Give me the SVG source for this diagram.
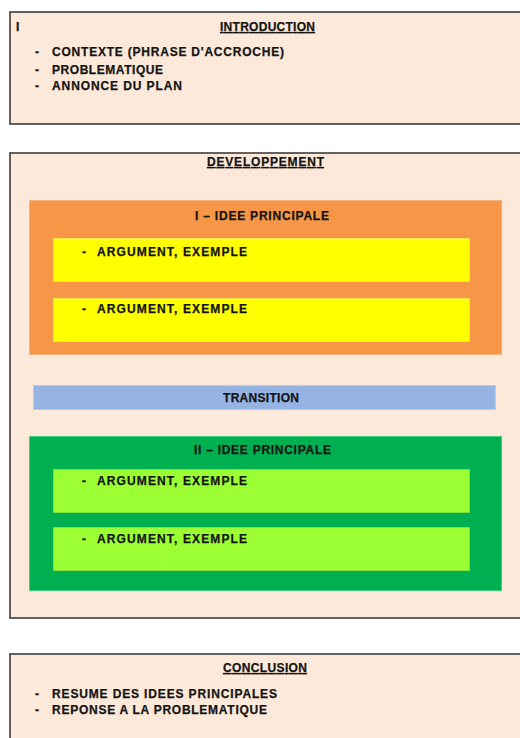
<svg xmlns="http://www.w3.org/2000/svg" width="520" height="738" viewBox="0 0 520 738">
  <style>
    text { font-family: "Liberation Sans", Arial, sans-serif; font-weight: bold; font-size: 12px; fill: #141414; stroke: #141414; stroke-width: 0.25; }
    .title { text-anchor: middle; text-decoration: underline; }
    .head { text-anchor: middle; }
    .section { fill: #fde9d9; stroke: #3c3c3c; stroke-width: 1.6; }
    .idea1 { fill: #f79646; stroke: #f9b07a; stroke-width: 1; }
    .idea2 { fill: #00b050; stroke: #3fd07f; stroke-width: 1; }
    .arg1 { fill: #ffff00; stroke: #f7e64a; stroke-width: 1; }
    .arg2 { fill: #9bff33; stroke: #7fe23a; stroke-width: 1; }
    .trans { fill: #95b3e3; stroke: #b7cbea; stroke-width: 1; }
  </style>

  <rect width="520" height="738" fill="#ffffff"/>

  <!-- Introduction -->
  <g id="introduction">
    <rect class="section" x="10" y="12" width="520" height="112"/>
    <text x="16" y="31">I</text>
    <text class="title" x="267.5" y="31" textLength="95" lengthAdjust="spacing">INTRODUCTION</text>
    <text x="35" y="56">-</text>
    <text x="52" y="56" textLength="232" lengthAdjust="spacing">CONTEXTE (PHRASE D'ACCROCHE)</text>
    <text x="35" y="74">-</text>
    <text x="52" y="74" textLength="111" lengthAdjust="spacing">PROBLEMATIQUE</text>
    <text x="35" y="90">-</text>
    <text x="52" y="90" textLength="130" lengthAdjust="spacing">ANNONCE DU PLAN</text>
  </g>

  <!-- Développement -->
  <g id="developpement">
    <rect class="section" x="10" y="153" width="520" height="465"/>
    <text class="title" x="265.5" y="166" textLength="117" lengthAdjust="spacing">DEVELOPPEMENT</text>
  </g>

  <g id="idee1">
    <rect class="idea1" x="29.5" y="200.5" width="472" height="154"/>
    <text class="head" x="262" y="220" textLength="134" lengthAdjust="spacing">I – IDEE PRINCIPALE</text>
  </g>
  <g id="arg1a">
    <rect class="arg1" x="53.5" y="238.5" width="416" height="43"/>
    <text x="82" y="256">-</text>
    <text x="97" y="256" textLength="150" lengthAdjust="spacing">ARGUMENT, EXEMPLE</text>
  </g>
  <g id="arg1b">
    <rect class="arg1" x="53.5" y="298.5" width="416" height="43"/>
    <text x="82" y="313">-</text>
    <text x="97" y="313" textLength="150" lengthAdjust="spacing">ARGUMENT, EXEMPLE</text>
  </g>

  <g id="transition">
    <rect class="trans" x="33.5" y="385.5" width="462" height="24"/>
    <text class="head" x="261" y="402" textLength="76" lengthAdjust="spacing">TRANSITION</text>
  </g>

  <g id="idee2">
    <rect class="idea2" x="29.5" y="436.5" width="472" height="154"/>
    <text class="head" x="262.5" y="454" textLength="137" lengthAdjust="spacing">II – IDEE PRINCIPALE</text>
  </g>
  <g id="arg2a">
    <rect class="arg2" x="53.5" y="469.5" width="416" height="43"/>
    <text x="82" y="485">-</text>
    <text x="97" y="485" textLength="150" lengthAdjust="spacing">ARGUMENT, EXEMPLE</text>
  </g>
  <g id="arg2b">
    <rect class="arg2" x="53.5" y="527.5" width="416" height="43"/>
    <text x="82" y="543">-</text>
    <text x="97" y="543" textLength="150" lengthAdjust="spacing">ARGUMENT, EXEMPLE</text>
  </g>

  <!-- Conclusion -->
  <g id="conclusion">
    <rect class="section" x="10" y="654" width="520" height="100"/>
    <text class="title" x="265" y="672" textLength="84" lengthAdjust="spacing">CONCLUSION</text>
    <text x="35" y="698">-</text>
    <text x="52" y="698" textLength="225" lengthAdjust="spacing">RESUME DES IDEES PRINCIPALES</text>
    <text x="35" y="714">-</text>
    <text x="52" y="714" textLength="215" lengthAdjust="spacing">REPONSE A LA PROBLEMATIQUE</text>
  </g>
</svg>
